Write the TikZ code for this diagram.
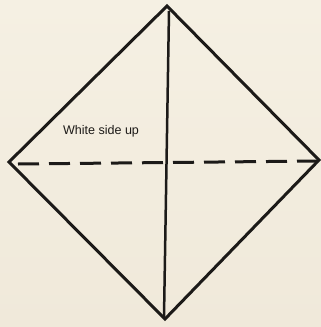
\documentclass[tikz,border=0pt]{standalone}
\usepackage{fontspec}
\setmainfont{Liberation Sans}
\usetikzlibrary{calc}
\definecolor{kertas}{RGB}{245,240,227}
\definecolor{kertasgelap}{RGB}{240,233,218}
\definecolor{garis}{RGB}{28,26,24}

\begin{document}
\begin{tikzpicture}[x=0.03cm, y=-0.03cm, font=\fontsize{10.7}{12}\selectfont,
    lipatan/.style={line width=0.09cm, draw=garis, line join=miter},
    lembah/.style={lipatan, dash pattern=on 0.63cm off 0.3cm}]
        \useasboundingbox (0,0) rectangle (321,327);
        \shade[top color=kertas, bottom color=kertasgelap] (0,0) rectangle (321,327);
        \clip (0,0) rectangle (321,327);
        % corners of the square
        \coordinate (atas) at (167,6);
        \coordinate (kiri) at (9,162);
        \coordinate (bawah) at (165,319);
        \coordinate (kanan) at (319,160);
        % ends of the folds
        \coordinate (vAtas) at (169,11);
        \coordinate (vBawah) at (164,317);
        \coordinate (hKiri) at (18,164);
        \coordinate (hKanan) at (318,161);
        \draw[lipatan] (atas) -- (kanan) -- (bawah) -- (kiri) -- cycle;
        \draw[lipatan, line width=0.075cm] (vAtas) -- (vBawah);
        \draw[lembah] (hKiri) -- (hKanan);
        \node[text=garis] (sisi) at (101,131) {White side up};
    \end{tikzpicture}
\end{document}
